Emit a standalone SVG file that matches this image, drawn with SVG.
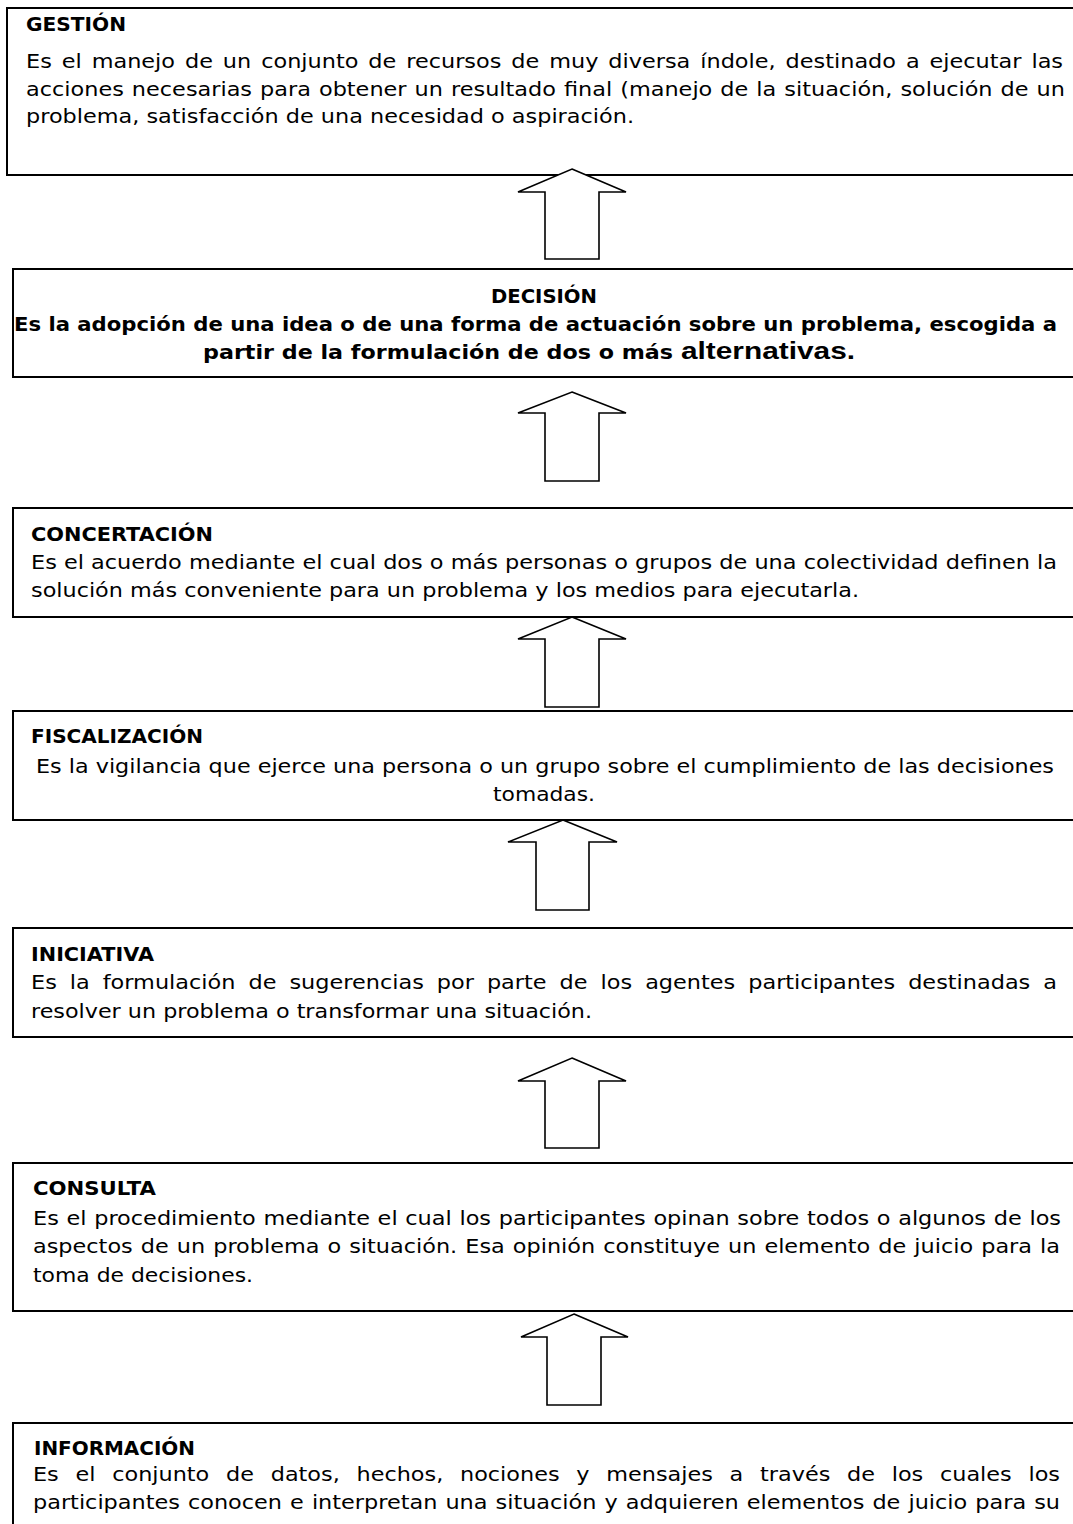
<svg xmlns="http://www.w3.org/2000/svg" width="1073" height="1524" viewBox="0 0 1073 1524">
<style>
.box{fill:#fff;stroke:#000;stroke-width:2}
.arr{fill:#fff;stroke:#000;stroke-width:1.6;stroke-linejoin:miter}
text{font-family:"DejaVu Sans","Liberation Sans",sans-serif;font-size:19px;fill:#000}
.b{font-weight:bold}
.big{font-family:"Liberation Sans",Arial,sans-serif;font-size:24px;font-weight:bold}
</style>
<rect width="1073" height="1524" fill="#fff"/>
<g id="gestion">
<rect class="box" x="7" y="8" width="1080" height="167"/>
<text class="b" x="26" y="31" textLength="100" lengthAdjust="spacingAndGlyphs">GESTIÓN</text>
<text x="26" y="68" textLength="1037" lengthAdjust="spacingAndGlyphs" word-spacing="2.4">Es el manejo de un conjunto de recursos de muy diversa índole, destinado a ejecutar las</text>
<text x="26" y="95.5" textLength="1039" lengthAdjust="spacingAndGlyphs" word-spacing="0.8">acciones necesarias para obtener un resultado final (manejo de la situación, solución de un</text>
<text x="26" y="123" textLength="608" lengthAdjust="spacingAndGlyphs">problema, satisfacción de una necesidad o aspiración.</text>
</g>
<g id="decision">
<rect class="box" x="13" y="269" width="1080" height="108"/>
<text class="b" x="491" y="303" textLength="106" lengthAdjust="spacingAndGlyphs">DECISIÓN</text>
<text class="b" x="14" y="331" textLength="1043" lengthAdjust="spacingAndGlyphs">Es la adopción de una idea o de una forma de actuación sobre un problema, escogida a</text>
<text class="b" x="203" y="359" textLength="470" lengthAdjust="spacingAndGlyphs">partir de la formulación de dos o más</text>
<text class="big" x="681" y="359" textLength="174" lengthAdjust="spacingAndGlyphs">alternativas.</text>
</g>
<g id="concertacion">
<rect class="box" x="13" y="508" width="1080" height="109"/>
<text class="b" x="31" y="541" textLength="182" lengthAdjust="spacingAndGlyphs">CONCERTACIÓN</text>
<text x="31" y="569" textLength="1026" lengthAdjust="spacingAndGlyphs">Es el acuerdo mediante el cual dos o más personas o grupos de una colectividad definen la</text>
<text x="31" y="597" textLength="828" lengthAdjust="spacingAndGlyphs">solución más conveniente para un problema y los medios para ejecutarla.</text>
</g>
<g id="fiscalizacion">
<rect class="box" x="13" y="711" width="1080" height="109"/>
<text class="b" x="31" y="743" textLength="172" lengthAdjust="spacingAndGlyphs">FISCALIZACIÓN</text>
<text x="36" y="773" textLength="1018" lengthAdjust="spacingAndGlyphs">Es la vigilancia que ejerce una persona o un grupo sobre el cumplimiento de las decisiones</text>
<text x="493" y="801" textLength="102" lengthAdjust="spacingAndGlyphs">tomadas.</text>
</g>
<g id="iniciativa">
<rect class="box" x="13" y="928" width="1080" height="109"/>
<text class="b" x="31" y="961" textLength="123" lengthAdjust="spacingAndGlyphs">INICIATIVA</text>
<text x="31" y="989" textLength="1026" lengthAdjust="spacingAndGlyphs" word-spacing="5">Es la formulación de sugerencias por parte de los agentes participantes destinadas a</text>
<text x="31" y="1018" textLength="561" lengthAdjust="spacingAndGlyphs">resolver un problema o transformar una situación.</text>
</g>
<g id="consulta">
<rect class="box" x="13" y="1163" width="1080" height="148"/>
<text class="b" x="33" y="1195" textLength="123" lengthAdjust="spacingAndGlyphs">CONSULTA</text>
<text x="33" y="1225" textLength="1028" lengthAdjust="spacingAndGlyphs" word-spacing="0.5">Es el procedimiento mediante el cual los participantes opinan sobre todos o algunos de los</text>
<text x="33" y="1253" textLength="1027" lengthAdjust="spacingAndGlyphs" word-spacing="0.8">aspectos de un problema o situación. Esa opinión constituye un elemento de juicio para la</text>
<text x="33" y="1282" textLength="220" lengthAdjust="spacingAndGlyphs">toma de decisiones.</text>
</g>
<g id="informacion">
<rect class="box" x="13" y="1423" width="1080" height="200"/>
<text class="b" x="34" y="1455" textLength="161" lengthAdjust="spacingAndGlyphs">INFORMACIÓN</text>
<text x="33" y="1481" textLength="1027" lengthAdjust="spacingAndGlyphs" word-spacing="8.2">Es el conjunto de datos, hechos, nociones y mensajes a través de los cuales los</text>
<text x="33" y="1509" textLength="1027" lengthAdjust="spacingAndGlyphs" word-spacing="0.8">participantes conocen e interpretan una situación y adquieren elementos de juicio para su</text>
</g>
<g id="connectors">
<polygon class="arr" points="572,169 626,192 599,192 599,259 545,259 545,192 518,192"/>
<polygon class="arr" points="572,392 626,413 599,413 599,481 545,481 545,413 518,413"/>
<polygon class="arr" points="572,617 626,639 599,639 599,707 545,707 545,639 518,639"/>
<polygon class="arr" points="563,820 617,842 589,842 589,910 536,910 536,842 508,842"/>
<polygon class="arr" points="572,1058 626,1081 599,1081 599,1148 545,1148 545,1081 518,1081"/>
<polygon class="arr" points="574,1314 628,1337 601,1337 601,1405 547,1405 547,1337 521,1337"/>
</g>
</svg>
